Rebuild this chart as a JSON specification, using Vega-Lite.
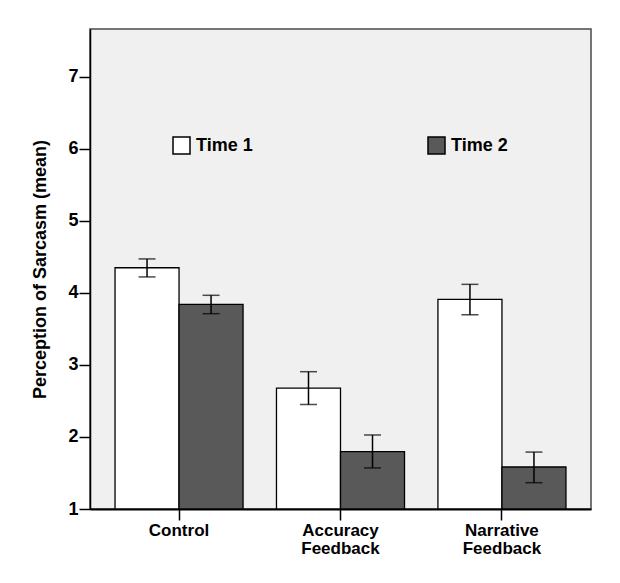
{
  "$schema": "https://vega.github.io/schema/vega-lite/v6.json",
  "width": 501,
  "height": 480,
  "autosize": "none",
  "padding": {"left": 90, "top": 29, "right": 29, "bottom": 74},
  "background": "white",
  "config": {
    "font": "Liberation Sans",
    "view": {"fill": "#f0f0f0", "stroke": "#4a4a4a", "strokeWidth": 1.5}
  },
  "data": {
    "values": [
      {"group": "Control", "time": "Time 1", "mean": 4.347, "lo": 4.22, "hi": 4.47},
      {"group": "Control", "time": "Time 2", "mean": 3.839, "lo": 3.71, "hi": 3.965},
      {"group": "Accuracy Feedback", "time": "Time 1", "mean": 2.678, "lo": 2.45, "hi": 2.905},
      {"group": "Accuracy Feedback", "time": "Time 2", "mean": 1.795, "lo": 1.57, "hi": 2.027},
      {"group": "Narrative Feedback", "time": "Time 1", "mean": 3.908, "lo": 3.695, "hi": 4.117},
      {"group": "Narrative Feedback", "time": "Time 2", "mean": 1.583, "lo": 1.365, "hi": 1.79}
    ]
  },
  "encoding": {
    "x": {
      "field": "group",
      "type": "nominal",
      "sort": ["Control", "Accuracy Feedback", "Narrative Feedback"],
      "scale": {"paddingInner": 0.207, "paddingOuter": 0.155},
      "axis": {
        "title": null,
        "labelAngle": 0,
        "labelExpr": "split(datum.label, ' ')",
        "labelFontSize": 17,
        "labelFontWeight": "bold",
        "labelColor": "black",
        "labelLineHeight": 18,
        "labelPadding": 2,
        "tickSize": 11,
        "tickColor": "black",
        "tickWidth": 1.5,
        "domainColor": "black",
        "domainWidth": 2
      }
    },
    "xOffset": {
      "field": "time",
      "type": "nominal",
      "scale": {"paddingInner": 0, "paddingOuter": 0}
    }
  },
  "layer": [
    {
      "mark": {"type": "bar", "stroke": "black", "strokeWidth": 1.3},
      "encoding": {
        "y": {
          "field": "mean",
          "type": "quantitative",
          "scale": {"domain": [1, 7.66], "nice": false, "zero": false},
          "axis": {
            "title": "Perception of Sarcasm (mean)",
            "values": [1, 2, 3, 4, 5, 6, 7],
            "format": "d",
            "grid": false,
            "labelFontSize": 18,
            "labelFontWeight": "bold",
            "labelColor": "black",
            "labelPadding": 1,
            "tickSize": 11,
            "tickColor": "black",
            "tickWidth": 1.5,
            "domainColor": "black",
            "domainWidth": 1.5,
            "titleFontSize": 18,
            "titleFontWeight": "bold",
            "titleColor": "black",
            "titlePadding": 18
          }
        },
        "y2": {"datum": 1},
        "fill": {
          "field": "time",
          "type": "nominal",
          "scale": {"domain": ["Time 1", "Time 2"], "range": ["white", "#595959"]},
          "legend": {
            "title": null,
            "orient": "none",
            "legendX": 82,
            "legendY": 107,
            "direction": "horizontal",
            "symbolType": "square",
            "symbolSize": 289,
            "symbolStrokeColor": "black",
            "symbolStrokeWidth": 1.5,
            "labelFontSize": 18,
            "labelFontWeight": "bold",
            "labelColor": "black",
            "labelOffset": 5,
            "columnPadding": 172
          }
        }
      }
    },
    {
      "mark": {"type": "rule", "color": "black", "strokeWidth": 1.5},
      "encoding": {
        "y": {"field": "lo", "type": "quantitative"},
        "y2": {"field": "hi"}
      }
    },
    {
      "mark": {"type": "tick", "color": "black", "thickness": 1.5, "size": 17},
      "encoding": {
        "y": {"field": "lo", "type": "quantitative"}
      }
    },
    {
      "mark": {"type": "tick", "color": "black", "thickness": 1.5, "size": 17},
      "encoding": {
        "y": {"field": "hi", "type": "quantitative"}
      }
    }
  ]
}
